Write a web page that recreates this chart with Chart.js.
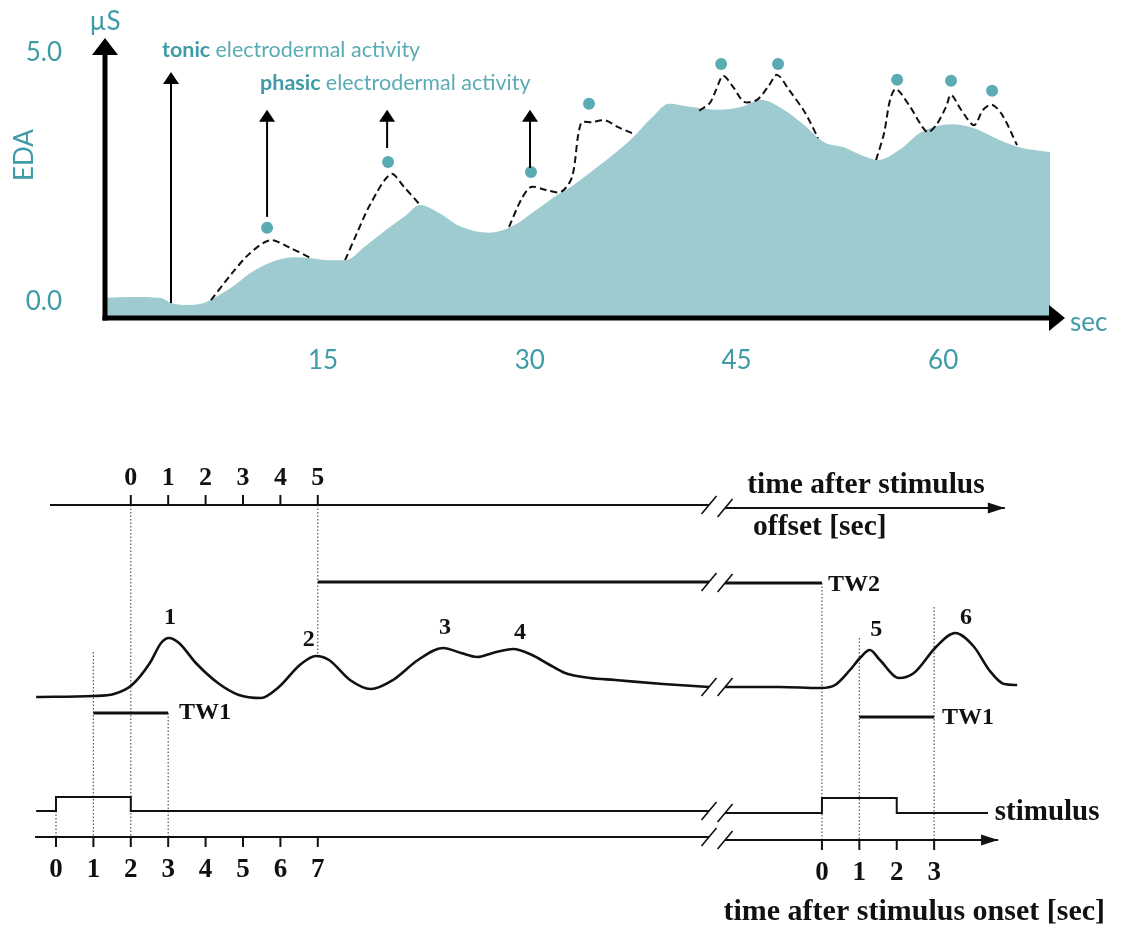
<!DOCTYPE html>
<html><head><meta charset="utf-8">
<script src="https://cdn.jsdelivr.net/npm/chart.js@4.4.1/dist/chart.umd.min.js"></script>
<style>
html,body{margin:0;padding:0;background:#fff;overflow:hidden;}
#c1{position:absolute;left:0;top:0;}
#c2{position:absolute;left:0;top:440px;}
</style></head><body>
<canvas id="c1" width="1126" height="400"></canvas>
<canvas id="c2" width="1126" height="488"></canvas>
<script>
// ================= TOP CHART DATA (x: sec, y: µS) =================
const xTicks = [15, 30, 45, 60];
const yTicks = [0, 5];
const tonicX = [-0.8,1.14,3.24,3.97,5.06,6.36,7.09,8.40,9.70,11.23,12.82,14.13,15.43,16.67,17.97,19.58,20.88,22.04,23.42,25.02,27.05,28.65,30.47,32.21,32.64,34.81,37.28,38.88,40.11,41.63,43.73,45.40,46.79,48.09,49.76,51.36,52.73,54.04,55.28,56.80,58.40,60.57,62.24,64.13,65.73,67.76];
const tonicY = [0.08,0.10,0.08,-0.02,-0.06,-0.02,0.08,0.30,0.58,0.80,0.90,0.88,0.84,0.84,1.10,1.45,1.71,1.95,1.79,1.51,1.39,1.51,1.85,2.19,2.25,2.69,3.25,3.71,3.98,3.92,3.86,3.92,4.06,3.92,3.59,3.21,3.11,2.95,2.85,3.05,3.41,3.57,3.49,3.25,3.09,3.01];
const phasicX = [6.87,8.40,9.70,11.16,12.53,14.13,null,16.60,17.47,18.48,19.93,20.88,22.04,null,28.50,29.37,30.09,31.18,32.27,33.07,33.72,34.52,35.46,36.41,37.43,null,42.30,43.08,43.52,44.03,44.75,45.55,46.49,47.29,47.95,48.81,49.98,50.92,null,55.13,55.71,56.15,56.58,57.60,58.83,59.49,60.21,60.57,61.30,62.24,62.90,63.55,64.28,65.36];
const phasicY = [0.04,0.58,0.98,1.24,1.10,0.88,null,0.84,1.39,1.99,2.57,2.31,1.95,null,1.51,2.05,2.31,2.25,2.21,2.51,3.59,3.61,3.65,3.51,3.39,null,3.84,4.00,4.26,4.54,4.32,4.02,4.06,4.32,4.56,4.26,3.80,3.29,null,2.85,3.39,4.06,4.28,3.92,3.41,3.55,3.92,4.16,3.86,3.55,3.86,3.96,3.76,3.15];
const peakX = [10.94,19.72,30.09,34.30,43.89,48.02,56.66,60.57,63.55];
const peakY = [1.49,2.81,2.61,3.98,4.78,4.78,4.46,4.44,4.24];
const tonicArrowX = 3.97, tonicArrowFrom = -0.02, tonicArrowTo = 4.62;
const phasicArrowX = [10.94, 19.65, 30.02];
const phasicArrowFrom = [1.71, 3.09, 2.69];
const phasicArrowTo = 3.86;

// ================= BOTTOM DIAGRAM DATA (t: sec after 1st onset, v: diagram units) =================
const trial2Start = 20.48;          // position of the 2nd stimulus onset on the broken axis
const stimOnOff = [0, 2];           // stimulus on / off (sec after onset)
const tw1Window = [1, 3];           // TW1 (sec after onset)
const tw2StartAfterOffset = 5;      // TW2 starts 5 s after offset
const offsetTicks = [0,1,2,3,4,5];
const onsetTicksLeft = [0,1,2,3,4,5,6,7];
const onsetTicksRight = [0,1,2,3];
const edaT = [-0.53,0.99,1.55,2.03,2.51,2.81,3.02,3.29,3.74,4.33,4.89,5.48,5.96,6.52,6.95,7.30,7.86,8.42,9.01,9.68,10.35,10.83,11.26,11.68,12.22,12.73,13.16,13.61,14.28,14.95,16.23,17.46,null,17.89,19.36,20.43,20.83,21.23,21.52,21.76,22.03,22.54,22.94,23.53,24.04,24.55,24.95,25.35,25.70];
const edaV = [14.0,14.1,14.3,15.2,17.4,19.4,19.9,19.4,17.4,15.4,14.2,13.9,15.0,17.2,18.1,17.7,15.7,14.8,15.7,17.7,18.9,18.4,18.0,18.4,18.8,18.2,17.3,16.4,15.9,15.7,15.3,15.0,null,15.0,15.0,14.9,15.2,16.7,18.0,18.7,17.7,15.9,16.4,19.0,20.4,19.0,16.7,15.3,15.2];
const peakLabels = ['1','2','3','4','5','6'];
const peakLabelT = [3.05, 6.76, 10.40, 12.41, 21.93, 24.33];
const peakLabelV = [21.9, 19.7, 20.9, 20.4, 20.7, 21.9];
const breakL = 17.46, breakR = 17.89;
const offsetAxisV = [33.2, 32.9];
const tw2V = [25.5, 25.4];
const tw1V = [12.4, 12.0];
const stimLowV = [2.6, 2.4];
const stimHighV = [4.0, 3.9];
const onsetAxisV = [0, -0.3];

const TEAL = '#3f9ba6', TEAL_L = '#5aabb4', AREA = '#9ecbd0', DOT = '#5aabb3', INK = '#111';

function pts(xs, ys){
  const out = []; let last = 0;
  xs.forEach((x,i)=>{ if (x === null || ys[i] === null) out.push({x:last, y:null}); else { out.push({x, y:ys[i]}); last = x; } });
  return out;
}
function head(ctx, x, y, dir, len, half){
  ctx.beginPath();
  if (dir === 'up'){ ctx.moveTo(x,y); ctx.lineTo(x-half,y+len); ctx.lineTo(x+half,y+len); }
  else { ctx.moveTo(x,y); ctx.lineTo(x-len,y-half); ctx.lineTo(x-len,y+half); }
  ctx.closePath(); ctx.fill();
}
function noPad(s){ s.paddingTop = 0; s.paddingBottom = 0; s.paddingLeft = 0; s.paddingRight = 0; }

// ---------- top decorations ----------
const topDecor = {
  id:'topDecor',
  afterDatasetsDraw(chart){
    const {ctx, chartArea:a, scales:{x, y}} = chart;
    ctx.save();
    ctx.fillStyle = '#000'; ctx.strokeStyle = '#000';
    ctx.lineWidth = 5; ctx.lineCap = 'butt';
    ctx.beginPath(); ctx.moveTo(a.left, a.bottom + 2.5); ctx.lineTo(a.left, a.top + 12); ctx.stroke();
    head(ctx, a.left, a.top, 'up', 17, 13);
    ctx.beginPath(); ctx.moveTo(a.left - 2.5, a.bottom); ctx.lineTo(a.right - 12, a.bottom); ctx.stroke();
    head(ctx, a.right, a.bottom, 'right', 16, 13);
    ctx.lineWidth = 2;
    const arr = (xv, y0, y1) => {
      const px = x.getPixelForValue(xv), p0 = y.getPixelForValue(y0), p1 = y.getPixelForValue(y1);
      ctx.beginPath(); ctx.moveTo(px, p0); ctx.lineTo(px, p1 + 8); ctx.stroke();
      head(ctx, px, p1, 'up', 12, 8);
    };
    arr(tonicArrowX, tonicArrowFrom, tonicArrowTo);
    phasicArrowX.forEach((xv,i)=>arr(xv, phasicArrowFrom[i], phasicArrowTo));
    ctx.textBaseline = 'middle'; ctx.textAlign = 'left';
    const lab = (bold, rest, px, py) => {
      ctx.font = 'bold 21.5px Lato'; ctx.fillStyle = TEAL; ctx.fillText(bold, px, py);
      const w = ctx.measureText(bold + ' ').width;
      ctx.font = '21.5px Lato'; ctx.fillStyle = TEAL_L; ctx.fillText(rest, px + w, py);
    };
    lab('tonic', 'electrodermal activity', x.getPixelForValue(tonicArrowX) - 9, y.getPixelForValue(tonicArrowTo) - 22);
    lab('phasic', 'electrodermal activity', x.getPixelForValue(phasicArrowX[0]) - 7, y.getPixelForValue(phasicArrowTo) - 27);
    ctx.fillStyle = TEAL; ctx.font = '26px Lato';
    ctx.textAlign = 'center'; ctx.fillText('µS', a.left, 22);
    ctx.textAlign = 'left'; ctx.textBaseline = 'alphabetic'; ctx.fillText('sec', a.right + 5, a.bottom + 13);
    ctx.save(); ctx.translate(25, 155); ctx.rotate(-Math.PI/2);
    ctx.textAlign = 'center'; ctx.textBaseline = 'middle'; ctx.fillText('EDA', 0, 0); ctx.restore();
    ctx.restore();
  }
};

new Chart(document.getElementById('c1'), {
  type:'line',
  data:{datasets:[
    {label:'tonic', data: pts(tonicX, tonicY), fill:'start', backgroundColor:AREA, borderWidth:0, borderColor:'rgba(0,0,0,0)', pointRadius:0, cubicInterpolationMode:'monotone', order:3},
    {label:'phasic', data: pts(phasicX, phasicY), borderColor:INK, borderWidth:2, borderDash:[7,4], pointRadius:0, fill:false, tension:0.3, spanGaps:false, order:2},
    {label:'peaks', type:'scatter', data: pts(peakX, peakY), pointRadius:6, pointBackgroundColor:DOT, pointBorderWidth:0, showLine:false, order:1}
  ]},
  options:{
    responsive:false, animation:false, devicePixelRatio:1,
    layout:{padding:{top:38, right:61, left:0, bottom:0}},
    plugins:{legend:{display:false}, tooltip:{enabled:false}},
    scales:{
      x:{type:'linear', min:-0.82, max:68.84, grid:{display:false, drawTicks:false}, border:{display:false},
         afterBuildTicks(s){ s.ticks = xTicks.map(v=>({value:v})); },
         ticks:{color:TEAL, font:{family:'Lato', size:26}, padding:27, maxRotation:0, autoSkip:false},
         afterFit(s){ s.height = 82; noPad(s); }},
      y:{type:'linear', min:-0.32, max:5.30, grid:{display:false, drawTicks:false}, border:{display:false},
         afterBuildTicks(s){ s.ticks = yTicks.map(v=>({value:v})); },
         ticks:{color:TEAL, font:{family:'Lato', size:26}, padding:43, callback:v=>Number(v).toFixed(1)},
         afterFit(s){ s.width = 105; noPad(s); }}
    }
  },
  plugins:[topDecor]
});

// ---------- bottom diagram ----------
const T2 = trial2Start;
const lines = [
  {name:'offsetAxis', t:[-0.16, breakL, null, breakR, 25.37], v:[offsetAxisV[0], offsetAxisV[0], null, offsetAxisV[1], offsetAxisV[1]], w:2, arrow:true},
  {name:'tw2', t:[stimOnOff[1]+tw2StartAfterOffset, breakL, null, breakR, T2], v:[tw2V[0], tw2V[0], null, tw2V[1], tw2V[1]], w:3.2},
  {name:'eda', t:edaT, v:edaV, w:2.6, smooth:true},
  {name:'tw1a', t:tw1Window, v:[tw1V[0], tw1V[0]], w:3.2},
  {name:'tw1b', t:tw1Window.map(s=>T2+s), v:[tw1V[1], tw1V[1]], w:3.2},
  {name:'stim', t:[-0.53, stimOnOff[0], stimOnOff[0], stimOnOff[1], stimOnOff[1], breakL, null, breakR, T2+stimOnOff[0], T2+stimOnOff[0], T2+stimOnOff[1], T2+stimOnOff[1], 24.92],
     v:[stimLowV[0], stimLowV[0], stimHighV[0], stimHighV[0], stimLowV[0], stimLowV[0], null, stimLowV[1], stimLowV[1], stimHighV[1], stimHighV[1], stimLowV[1], stimLowV[1]], w:2},
  {name:'onsetAxis', t:[-0.56, breakL, null, breakR, 25.19], v:[onsetAxisV[0], onsetAxisV[0], null, onsetAxisV[1], onsetAxisV[1]], w:2, arrow:true}
];
const dotT = [0, 1, 2, 3, 7, T2, T2+1, T2+3];
const dotTop = [stimLowV[0], 18.5, offsetAxisV[0], tw1V[0], offsetAxisV[0], tw2V[1], 19.9, 23.0];
const dotBottom = [0, 0, 0, 0, 18.1, onsetAxisV[1], onsetAxisV[1], onsetAxisV[1]];
const dotLinesT = [], dotLinesV = [];
dotT.forEach((t,i)=>{ dotLinesT.push(t, t, null); dotLinesV.push(dotTop[i], dotBottom[i], null); });

const SERIF = '"Liberation Serif", "Times New Roman", serif';
const botDecor = {
  id:'botDecor',
  afterDatasetsDraw(chart){
    const {ctx, scales:{x, y}} = chart;
    ctx.save();
    ctx.fillStyle = INK; ctx.strokeStyle = INK;
    lines.filter(l=>l.arrow).forEach(l=>{
      const n = l.t.length - 1; head(ctx, x.getPixelForValue(l.t[n]), y.getPixelForValue(l.v[n]), 'right', 17, 5.5);
    });
    ctx.lineWidth = 1.6;
    lines.forEach(l=>{
      const gi = l.t.indexOf(null); if (gi < 0) return;
      [gi-1, gi+1].forEach(k=>{
        const px = x.getPixelForValue(l.t[k]), py = y.getPixelForValue(l.v[k]);
        ctx.beginPath(); ctx.moveTo(px-7.5, py+9); ctx.lineTo(px+7.5, py-9); ctx.stroke();
      });
    });
    ctx.lineWidth = 2;
    const oy = y.getPixelForValue(offsetAxisV[0]);
    offsetTicks.forEach(o=>{ const px = x.getPixelForValue(stimOnOff[1]+o); ctx.beginPath(); ctx.moveTo(px, oy); ctx.lineTo(px, oy-10); ctx.stroke(); });
    const ay = y.getPixelForValue(onsetAxisV[0]), ay2 = y.getPixelForValue(onsetAxisV[1]);
    onsetTicksLeft.forEach(t=>{ const px = x.getPixelForValue(t); ctx.beginPath(); ctx.moveTo(px, ay); ctx.lineTo(px, ay+10); ctx.stroke(); });
    onsetTicksRight.forEach(t=>{ const px = x.getPixelForValue(T2+t); ctx.beginPath(); ctx.moveTo(px, ay2); ctx.lineTo(px, ay2+10); ctx.stroke(); });
    ctx.textBaseline = 'middle'; ctx.textAlign = 'center';
    const txt = (s, t, v, size, align, bold) => {
      ctx.font = (bold ? 'bold ' : '') + size + 'px ' + SERIF; ctx.textAlign = align || 'center';
      ctx.fillText(s, x.getPixelForValue(t), y.getPixelForValue(v));
    };
    offsetTicks.forEach(o=>txt(String(o), stimOnOff[1]+o, 35.9, 26, 'center', true));
    onsetTicksLeft.forEach(t=>txt(String(t), t, -3.3, 27, 'center', true));
    onsetTicksRight.forEach(t=>txt(String(t), T2+t, -3.6, 27, 'center', true));
    peakLabels.forEach((s,i)=>txt(s, peakLabelT[i], peakLabelV[i], 24, 'center', true));
    txt('time after stimulus', 18.48, 35.2, 29.5, 'left', true);
    txt('offset [sec]', 18.64, 31.0, 29.5, 'left', true);
    txt('TW2', T2+0.16, 25.2, 24, 'left', true);
    txt('TW1', tw1Window[1]+0.29, tw1V[0], 24, 'left', true);
    txt('TW1', T2+tw1Window[1]+0.21, tw1V[1]-0.1, 24, 'left', true);
    txt('stimulus', 25.1, stimLowV[1], 29, 'left', true);
    txt('time after stimulus onset [sec]', 28.05, -7.5, 30, 'right', true);
    ctx.restore();
  }
};

const botDatasets = lines.map(l=>({
  label:l.name, data:pts(l.t, l.v), borderColor:INK, borderWidth:l.w, pointRadius:0, fill:false, spanGaps:false,
  cubicInterpolationMode: l.smooth ? 'monotone' : 'default', tension:0, borderCapStyle:'butt', borderJoinStyle:'miter'
}));
botDatasets.push({label:'guides', data:pts(dotLinesT, dotLinesV), borderColor:'#555', borderWidth:1.2, borderDash:[1.5,2], pointRadius:0, fill:false, spanGaps:false, tension:0});

new Chart(document.getElementById('c2'), {
  type:'line',
  data:{datasets:botDatasets},
  options:{
    responsive:false, animation:false, devicePixelRatio:1,
    layout:{padding:0},
    plugins:{legend:{display:false}, tooltip:{enabled:false}},
    scales:{
      x:{type:'linear', display:false, min:-1.497, max:28.61},
      y:{type:'linear', display:false, min:-9.1, max:39.7}
    }
  },
  plugins:[botDecor]
});
</script>
</body></html>
